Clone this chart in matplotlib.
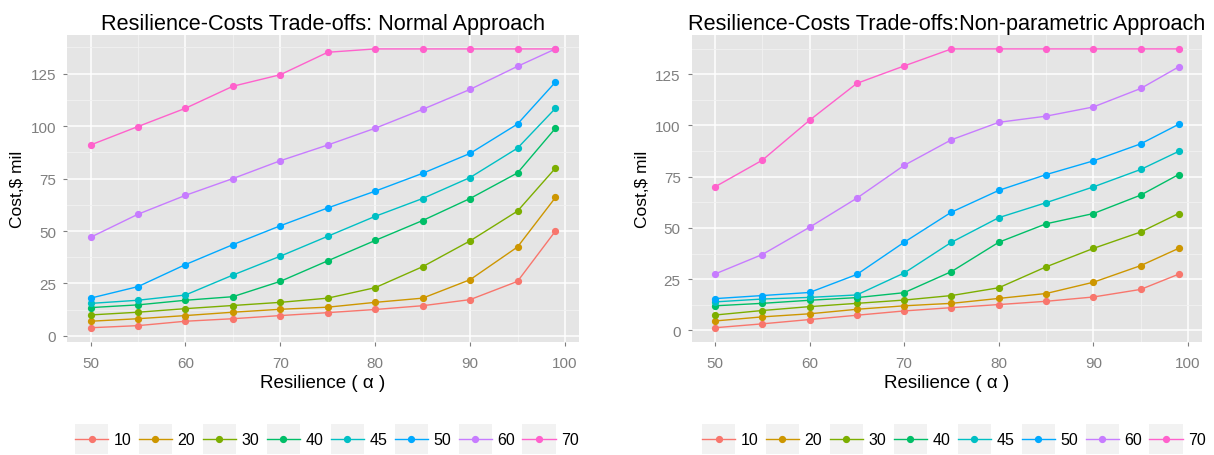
import matplotlib
matplotlib.use("Agg")
import matplotlib.pyplot as plt
from matplotlib.legend_handler import HandlerLine2D
from matplotlib.patches import Rectangle
from matplotlib.ticker import MultipleLocator

plt.rcParams['font.family'] = ['Liberation Sans', 'DejaVu Sans']

# resilience levels on the x axis
resilience = [50, 55, 60, 65, 70, 75, 80, 85, 90, 95, 99]
groups = ['10', '20', '30', '40', '45', '50', '60', '70']

# Normal approach, cost in $ mil
normal = {
    '10': [3.9, 4.9, 7.0, 8.2, 9.7, 11.1, 12.6, 14.4, 17.3, 26.0, 50.0],
    '20': [7.0, 8.2, 9.7, 11.3, 12.7, 13.7, 16.0, 18.0, 26.8, 42.4, 66.0],
    '30': [10.0, 11.3, 13.0, 14.5, 16.0, 18.0, 23.0, 33.0, 45.3, 59.5, 80.0],
    '40': [13.5, 14.8, 17.0, 18.7, 26.0, 35.8, 45.5, 55.0, 65.5, 77.7, 99.0],
    '45': [15.5, 17.0, 19.5, 29.0, 38.0, 47.5, 57.0, 65.5, 75.5, 89.5, 108.5],
    '50': [18.0, 23.5, 34.0, 43.5, 52.5, 61.0, 69.0, 77.5, 87.0, 101.0, 121.0],
    '60': [47.0, 58.0, 67.0, 75.0, 83.5, 91.0, 99.0, 108.0, 117.5, 128.5, 136.8],
    '70': [91.0, 99.8, 108.5, 119.0, 124.5, 135.2, 136.8, 136.8, 136.8, 136.8, 136.8],
}

# Non-parametric approach, cost in $ mil
nonparam = {
    '10': [1.3, 3.2, 5.3, 7.4, 9.5, 11.1, 12.6, 14.2, 16.3, 20.0, 27.4],
    '20': [4.6, 6.6, 8.1, 10.3, 12.0, 13.2, 15.6, 18.0, 23.5, 31.6, 40.0],
    '30': [7.5, 9.7, 11.6, 13.2, 14.8, 17.0, 20.8, 31.0, 40.0, 48.0, 57.0],
    '40': [12.0, 13.2, 14.7, 16.0, 18.4, 28.7, 43.0, 52.0, 57.0, 66.0, 76.0],
    '45': [13.9, 15.3, 16.1, 17.3, 28.0, 43.0, 55.0, 62.3, 70.0, 78.5, 87.3],
    '50': [15.5, 17.0, 18.5, 27.3, 43.0, 57.7, 68.3, 76.0, 82.7, 91.0, 100.5],
    '60': [27.5, 37.0, 50.3, 64.5, 80.5, 93.0, 101.5, 104.5, 109.0, 118.0, 128.5],
    '70': [70.0, 83.0, 102.5, 120.5, 129.0, 137.3, 137.3, 137.3, 137.3, 137.3, 137.3],
}

colors = ['#F8766D', '#CD9600', '#7CAE00', '#00BE67',
          '#00BFC4', '#00A9FF', '#C77CFF', '#FF61CC']


class KeyHandler(HandlerLine2D):
    # ggplot style legend key: grey square behind the line
    def create_artists(self, legend, orig_handle, xdescent, ydescent,
                       width, height, fontsize, trans):
        yc = (height - ydescent) / 2.0
        rect = Rectangle((-xdescent, yc - 11), width, 22,
                         facecolor='#F2F2F2', edgecolor='none', transform=trans)
        arts = super().create_artists(legend, orig_handle, xdescent, ydescent,
                                      width, height, fontsize, trans)
        return [rect] + list(arts)


def draw_panel(ax, data, title, legend_x):
    ax.set_facecolor('#E5E5E5')
    handles = []
    for g, c in zip(groups, colors):
        h, = ax.plot(resilience, data[g], color=c, lw=1.0, marker='o',
                     ms=4.2, label=g, zorder=3)
        handles.append(h)
    ax.set_xlim(47.55, 101.45)
    lo = min(min(v) for v in data.values())
    hi = max(max(v) for v in data.values())
    pad = (hi - lo) * 0.05
    ax.set_ylim(lo - pad, hi + pad)
    ax.xaxis.set_major_locator(MultipleLocator(10))
    ax.xaxis.set_minor_locator(MultipleLocator(5))
    ax.yaxis.set_major_locator(MultipleLocator(25))
    ax.yaxis.set_minor_locator(MultipleLocator(12.5))
    ax.grid(which='major', color='white', lw=1.1, zorder=0)
    ax.grid(which='minor', color='#F2F2F2', lw=0.6, zorder=0)
    ax.set_axisbelow(True)
    for s in ax.spines.values():
        s.set_visible(False)
    ax.tick_params(which='major', colors='#7F7F7F', labelsize=11, length=3)
    ax.tick_params(axis='x', which='major', pad=7)
    ax.tick_params(axis='y', which='major', pad=5)
    ax.tick_params(which='minor', length=0)
    ax.set_title(title, fontsize=15.6, pad=4)
    ax.set_xlabel('Resilience ( α )', fontsize=13.5, labelpad=3)
    ax.set_ylabel('Cost,\\$ mil', fontsize=12.5, labelpad=4)
    fig.legend(handles=handles, loc='center', bbox_to_anchor=(legend_x, 0.033),
               ncol=8, frameon=False, fontsize=11.5, handlelength=2.07,
               handletextpad=0.36, columnspacing=0.46, borderaxespad=0,
               borderpad=0, handler_map={h: KeyHandler() for h in handles})


fig = plt.figure(figsize=(12.14, 4.56), dpi=100)
ax1 = fig.add_axes([0.0554, 0.2485, 0.4213, 0.6726])
ax2 = fig.add_axes([0.5698, 0.2485, 0.4201, 0.6726])

draw_panel(ax1, normal, 'Resilience-Costs Trade-offs: Normal Approach', 327 / 1214)
draw_panel(ax2, nonparam, 'Resilience-Costs Trade-offs:Non-parametric Approach', 954 / 1214)

fig.savefig('out.png', dpi=100)
